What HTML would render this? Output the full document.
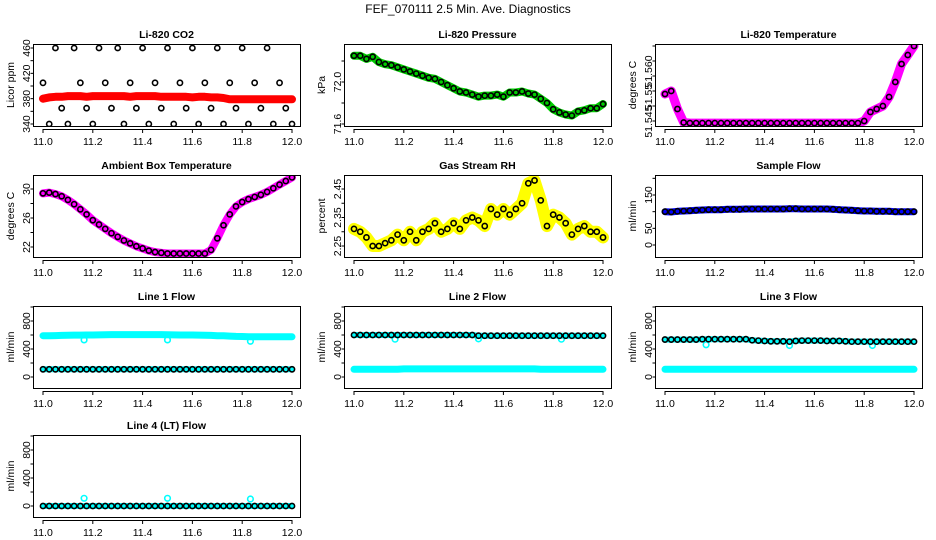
<!DOCTYPE html>
<html><head><meta charset="utf-8">
<style>
body{margin:0;background:#fff;}
svg{display:block;font-family:"Liberation Sans",Arial,sans-serif;}
</style></head>
<body>
<svg id="fig" width="936" height="540" viewBox="0 0 936 540">
<text x="468" y="13" text-anchor="middle" font-size="12">FEF_070111  2.5 Min. Ave. Diagnostics</text>
</svg>
<script>
// time axis categories (decimal hour) for 2.5-min averages
const times = [11.000,11.025,11.050,11.075,11.100,11.125,11.150,11.175,11.200,11.225,11.250,11.275,11.300,11.325,11.350,11.375,11.400,11.425,11.450,11.475,11.500,11.525,11.550,11.575,11.600,11.625,11.650,11.675,11.700,11.725,11.750,11.775,11.800,11.825,11.850,11.875,11.900,11.925,11.950,11.975,12.000];
const xTicks = [11.0,11.2,11.4,11.6,11.8,12.0];
const xTickLabels = ["11.0","11.2","11.4","11.6","11.8","12.0"];

const co2Ave = [405,340,460,365,340,460,405,365,340,460,405,365,460,340,405,365,460,340,405,365,460,340,405,365,460,340,405,365,460,340,405,365,460,340,405,365,460,340,405,365,340];
const co2Raw = [380,382,383,383,384,384,384,383,384,384,384,384,384,384,383,384,384,384,384,383,383,383,383,383,382,383,383,382,382,381,379,379,379,379,379,379,379,379,379,379,379];
const presAve = [72.25,72.25,72.22,72.24,72.19,72.17,72.16,72.14,72.12,72.10,72.08,72.06,72.04,72.03,72.00,71.97,71.94,71.91,71.90,71.88,71.86,71.87,71.87,71.88,71.86,71.90,71.90,71.91,71.89,71.88,71.84,71.80,71.74,71.71,71.69,71.68,71.72,71.73,71.75,71.75,71.79];
const ltempAve = [51.554,51.555,51.549,51.5445,51.5443,51.5443,51.5443,51.5443,51.5443,51.5443,51.5443,51.5443,51.5443,51.5443,51.5443,51.5443,51.5443,51.5443,51.5443,51.5443,51.5443,51.5443,51.5443,51.5443,51.5443,51.5443,51.5443,51.5443,51.5443,51.5443,51.5443,51.5443,51.545,51.548,51.549,51.550,51.553,51.558,51.564,51.567,51.570];
const ambAve = [29.4,29.5,29.3,29.0,28.5,27.9,27.2,26.5,25.7,25.1,24.5,23.9,23.4,22.9,22.5,22.1,21.8,21.5,21.3,21.2,21.1,21.1,21.1,21.1,21.1,21.1,21.1,21.6,23.2,25.0,26.5,27.6,28.2,28.6,28.9,29.2,29.6,30.1,30.6,31.1,31.6];
const rhAve = [2.31,2.30,2.28,2.25,2.25,2.26,2.27,2.29,2.27,2.30,2.27,2.30,2.31,2.33,2.30,2.31,2.33,2.31,2.34,2.35,2.34,2.32,2.38,2.36,2.38,2.36,2.38,2.40,2.47,2.48,2.41,2.32,2.36,2.35,2.33,2.29,2.31,2.32,2.30,2.30,2.28];
const sampAve = [100,99,101,102,103,104,105,106,106,106,107,107,107,108,108,108,108,108,108,108,109,109,108,108,108,108,108,107,106,105,104,103,102,102,101,101,101,100,100,100,100];
const l1Ave = [110,110,110,110,110,110,110,110,110,110,110,110,110,110,110,110,110,110,110,110,110,110,110,110,110,110,110,110,110,110,110,110,110,110,110,110,110,110,110,110,110];
const l1Raw = [590,590,592,595,596,598,598,600,600,602,604,605,605,605,606,606,606,606,605,605,604,602,600,600,600,598,596,594,590,588,585,580,578,576,575,575,574,574,574,574,574];
const l2Ave = [600,600,600,600,600,600,600,600,600,600,600,600,600,600,600,600,600,600,600,600,590,590,590,590,590,590,590,590,590,590,590,590,590,590,590,590,590,590,590,590,590];
const l2Raw = [110,110,110,110,110,110,110,110,115,115,115,115,115,115,115,115,115,115,115,115,115,115,115,115,115,115,115,115,115,115,110,110,110,110,110,110,110,110,110,110,110];
const l3Ave = [535,535,535,535,535,535,540,540,540,540,540,540,540,540,525,520,515,510,510,510,505,515,520,520,520,520,515,515,515,510,505,505,505,505,505,505,505,505,505,505,505];
const l3Raw = [110,110,110,110,112,112,112,112,112,112,112,112,112,112,112,112,112,112,112,112,112,112,112,112,112,112,112,112,112,112,112,112,112,112,112,112,112,112,110,110,110];
const l4Ave = [0,0,0,0,0,0,0,0,0,0,0,0,0,0,0,0,0,0,0,0,0,0,0,0,0,0,0,0,0,0,0,0,0,0,0,0,0,0,0,0,0];
const spikeTimes = [11.165,11.5,11.833];
const l1Spikes = [530,530,510];
const l2Spikes = [540,545,540];
const l3Spikes = [460,450,450];
const l4Spikes = [110,110,100];

const svg = document.getElementById('fig');
const NS = 'http://www.w3.org/2000/svg';
function mk(tag, attrs, parent){ const e=document.createElementNS(NS,tag); for(const k in attrs) e.setAttribute(k,attrs[k]); (parent||svg).appendChild(e); return e; }

const colX = [33,344,655];
const rowY = [44,175,306,435];
const W = 267, H = 82;

function panel(cfg){
  const x0 = colX[cfg.col], y0 = rowY[cfg.row];
  const g = mk('g',{});
  
  
  const xs = t => x0 + 10 + (t - 11) * 249;
  const ys = v => y0 + cfg.y1 + (v - cfg.v1) / (cfg.v2 - cfg.v1) * (cfg.y2 - cfg.y1);
  const clipId = 'c' + cfg.row + cfg.col;
  const cp = mk('clipPath',{id:clipId},g); mk('rect',{x:x0,y:y0,width:W,height:H},cp);
  const plot = mk('g',{'clip-path':'url(#'+clipId+')'},g);
  
  
  (cfg.bands||[]).forEach(b=>{
    const pts = times.map((t,i)=>xs(t).toFixed(1)+','+ys(b.vals[i]).toFixed(1)).join(' ');
    const pl = mk('polyline',{points:pts,fill:'none',stroke:b.color,'stroke-width':b.w,'stroke-linejoin':'round','stroke-linecap':'round'},plot);
    
    
  });
  (cfg.rawPts||[]).forEach(b=>{
    b.vals.forEach((v,i)=>{
      const c = mk('circle',{cx:xs(b.t[i]),cy:ys(v),r:2.8,fill:'none',stroke:b.color,'stroke-width':1.6},plot);
      
      
    });
  });
  (cfg.ave||[]).forEach(a=>{
    a.forEach((v,i)=>{
      const c = mk('circle',{cx:xs(times[i]),cy:ys(v),r:2.6,fill:'none',stroke:'#000','stroke-width':1.6},plot);
      
      
    });
  });
  const box = mk('rect',{x:x0+0.5,y:y0+0.5,width:W,height:H,fill:'none',stroke:'#000','stroke-width':1},g);
  
  
  // x axis
  const xa = mk('g',{},g);
  
  
  mk('line',{x1:xs(11),x2:xs(12),y1:y0+H+3.5,y2:y0+H+3.5,stroke:'#000'},xa);
  xTicks.forEach((t,i)=>{
    mk('line',{x1:xs(t),x2:xs(t),y1:y0+H+3,y2:y0+H+7,stroke:'#000'},xa);
    const tx = mk('text',{x:xs(t),y:y0+H+19,'text-anchor':'middle','font-size':10.5},xa);
    tx.textContent = xTickLabels[i];
    
    
  });
  // y axis
  const ya = mk('g',{},g);
  
  
  const ax = x0 + 0.5;
  cfg.ticks.forEach(t=>{ mk('line',{x1:ax-3,x2:ax,y1:ys(t),y2:ys(t),stroke:'#000'},ya); });
  cfg.labels.forEach((l,i)=>{
    const yy = ys(cfg.labelVals[i]);
    const tx = mk('text',{x:0,y:0,'text-anchor':'middle','font-size':10.5,transform:'translate('+(x0-3)+','+yy+') rotate(-90)'},ya);
    tx.textContent = l;
    
    
  });
  const yt = mk('text',{x:0,y:0,'text-anchor':'middle','font-size':10.5,transform:'translate('+(x0-19)+','+(y0+H/2)+') rotate(-90)'},g);
  yt.textContent = cfg.ylab;
  
  
  const ti = mk('text',{x:x0+W/2,y:y0-6,'text-anchor':'middle','font-size':10.5,'font-weight':'bold'},g);
  ti.textContent = cfg.title;
  
  
}

const flowTicks=[0,200,400,600,800,1000], flowLabels=["0","400","800"], flowLabelVals=[0,400,800];
panel({name:'co2-panel',row:0,col:0,title:'Li-820 CO2',ylab:'Licor ppm',v1:340,y1:80,v2:460,y2:4,
  ticks:[340,360,380,400,420,440,460],labels:["340","380","420","460"],labelVals:[340,380,420,460],
  bands:[{vals:co2Raw,color:'#ff0000',w:8}],ave:[co2Ave]});
panel({name:'pressure-panel',row:0,col:1,title:'Li-820 Pressure',ylab:'kPa',v1:71.6,y1:80,v2:72.0,y2:38,
  ticks:[71.6,71.8,72.0,72.2],labels:["71.6","72.0"],labelVals:[71.6,72.0],
  bands:[{vals:presAve,color:'#00cc00',w:8}],ave:[presAve]});
panel({name:'licor-temp-panel',row:0,col:2,title:'Li-820 Temperature',ylab:'degrees C',v1:51.545,y1:77,v2:51.550,y2:62,
  ticks:[51.545,51.550,51.555,51.560,51.565,51.570],labels:["51.545","51.55","51.560"],labelVals:[51.5448,51.553,51.5615],
  bands:[{vals:ltempAve,color:'#ff00ff',w:9}],ave:[ltempAve]});
panel({name:'ambient-temp-panel',row:1,col:0,title:'Ambient Box Temperature',ylab:'degrees C',v1:22,y1:72,v2:30,y2:14,
  ticks:[22,24,26,28,30],labels:["22","26","30"],labelVals:[22,26,30],
  bands:[{vals:ambAve,color:'#ff00ff',w:8}],ave:[ambAve]});
panel({name:'gas-rh-panel',row:1,col:1,title:'Gas Stream RH',ylab:'percent',v1:2.25,y1:71,v2:2.45,y2:14,
  ticks:[2.25,2.30,2.35,2.40,2.45],labels:["2.25","2.35","2.45"],labelVals:[2.25,2.35,2.45],
  bands:[{vals:rhAve,color:'#ffff00',w:12}],ave:[rhAve]});
panel({name:'sample-flow-panel',row:1,col:2,title:'Sample Flow',ylab:'ml/min',v1:0,y1:70,v2:150,y2:20,
  ticks:[0,50,100,150,200],labels:["0","50","150"],labelVals:[0,50,150],
  bands:[{vals:sampAve,color:'#0000ff',w:7}],ave:[sampAve]});
panel({name:'line1-flow-panel',row:2,col:0,title:'Line 1 Flow',ylab:'ml/min',v1:0,y1:71,v2:800,y2:15,
  ticks:flowTicks,labels:flowLabels,labelVals:flowLabelVals,
  bands:[{vals:l1Raw,color:'#00ffff',w:7},{vals:l1Ave,color:'#00ffff',w:6}],rawPts:[{t:spikeTimes,vals:l1Spikes,color:'#00ffff'}],ave:[l1Ave]});
panel({name:'line2-flow-panel',row:2,col:1,title:'Line 2 Flow',ylab:'ml/min',v1:0,y1:71,v2:800,y2:15,
  ticks:flowTicks,labels:flowLabels,labelVals:flowLabelVals,
  bands:[{vals:l2Raw,color:'#00ffff',w:7},{vals:l2Ave,color:'#00ffff',w:6}],rawPts:[{t:spikeTimes,vals:l2Spikes,color:'#00ffff'}],ave:[l2Ave]});
panel({name:'line3-flow-panel',row:2,col:2,title:'Line 3 Flow',ylab:'ml/min',v1:0,y1:71,v2:800,y2:15,
  ticks:flowTicks,labels:flowLabels,labelVals:flowLabelVals,
  bands:[{vals:l3Raw,color:'#00ffff',w:7},{vals:l3Ave,color:'#00ffff',w:6}],rawPts:[{t:spikeTimes,vals:l3Spikes,color:'#00ffff'}],ave:[l3Ave]});
panel({name:'line4-flow-panel',row:3,col:0,title:'Line 4 (LT) Flow',ylab:'ml/min',v1:0,y1:71,v2:800,y2:15,
  ticks:flowTicks,labels:flowLabels,labelVals:flowLabelVals,
  bands:[{vals:l4Ave,color:'#00ffff',w:6}],rawPts:[{t:spikeTimes,vals:l4Spikes,color:'#00ffff'}],ave:[l4Ave]});
</script>
</body></html>
